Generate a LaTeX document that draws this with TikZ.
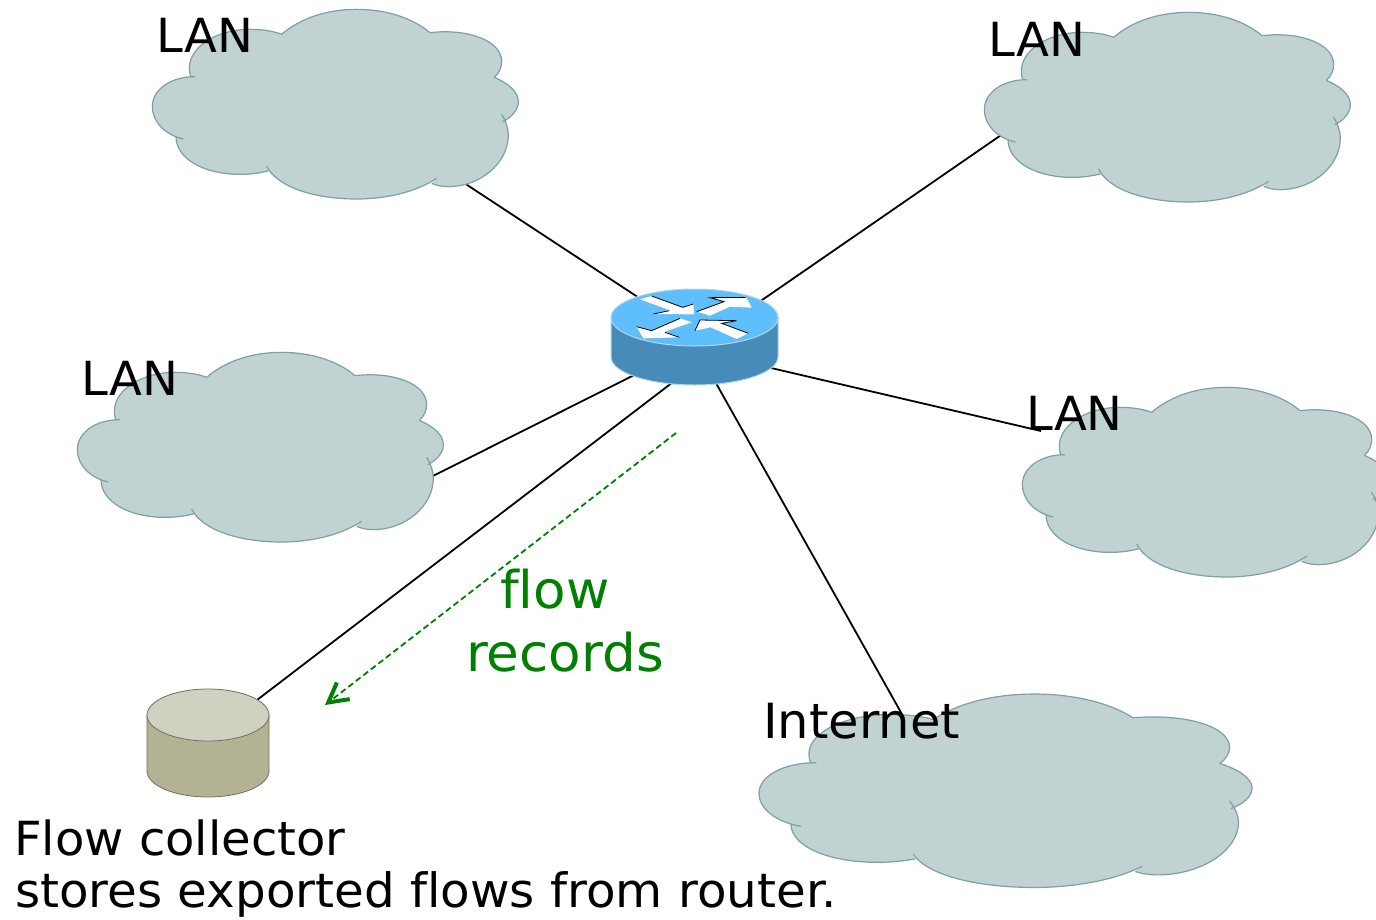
\documentclass[tikz,border=0pt]{standalone}
\usepackage{fontspec}
\setmainfont[Ligatures=NoCommon,FakeStretch=1.022]{DejaVu Sans}
\usetikzlibrary{arrows.meta}
\definecolor{cloudfill}{HTML}{C0D2D2}
\definecolor{cloudline}{HTML}{7F9FA3}
\definecolor{flowgreen}{HTML}{008000}
\definecolor{rtop}{HTML}{5FBEFC}
\definecolor{rbody}{HTML}{478CB8}
\definecolor{rline}{HTML}{B5D5EA}
\definecolor{dbtop}{HTML}{D1D1C1}
\definecolor{dbbody}{HTML}{B3B394}
\definecolor{dbline}{HTML}{6F6F5F}
\newcommand{\cloudshape}{(425,103) .. controls (480,55) and (560,28) .. (650,28) .. controls (740,28) and (820,55) .. (870,98) \J
(870,98) .. controls (980,85) and (1085,120) .. (1085,185) .. controls (1085,200) and (1078,220) .. (1063,232) \J
(1063,232) .. controls (1105,250) and (1135,275) .. (1135,305) .. controls (1135,330) and (1115,352) .. (1088,365) \J
(1085,343) .. controls (1098,365) and (1105,385) .. (1105,405) .. controls (1105,490) and (1020,560) .. (925,560) .. controls (905,560) and (888,556) .. (875,550) \J
(890,535) .. controls (830,575) and (740,597) .. (650,597) .. controls (520,597) and (410,560) .. (380,498) \J
(385,513) .. controls (355,520) and (330,523) .. (300,523) .. controls (190,523) and (108,475) .. (108,410) \J
(130,417) .. controls (75,405) and (37,365) .. (37,320) .. controls (37,270) and (90,230) .. (165,230) \J
(153,232) .. controls (150,225) and (148,215) .. (148,205) .. controls (148,140) and (230,88) .. (330,88) .. controls (365,88) and (400,93) .. (425,103)}
\newcommand{\cloudat}[4]{\begin{scope}[shift={(#1,#2)},x=#3*0.33333pt,y=#4*-0.33333pt]
\def\J{--}\fill[cloudfill] \cloudshape;
\def\J{}\draw[cloudline,line width=1.2pt] \cloudshape;
\end{scope}}
\tikzset{
 link/.style={black,line width=1.8pt},
 lbl/.style={inner sep=0pt,anchor=base west,font=\fontsize{47}{47}\selectfont,text=black},
 longlbl/.style={inner sep=0pt,anchor=base west,font=\fontsize{47.3}{47.3}\selectfont,text=black},
 inetlbl/.style={inner sep=0pt,anchor=base west,font=\fontsize{48.5}{48.5}\selectfont,text=black},
 flowlbl/.style={inner sep=0pt,anchor=base west,font=\fontsize{52}{52}\selectfont,text=flowgreen},
 flowarrow/.style={flowgreen,line width=1.8pt,dash pattern=on 6pt off 3.5pt,-{Straight Barb[length=19pt,width=21pt,line width=4pt]}},
 wharrow/.style={fill=white,draw=none},
 wedge/.style={black,line width=.8pt}
}
\begin{document}
\begin{tikzpicture}[x=1pt,y=-1pt]
\useasboundingbox (0,0) rectangle (1376,919);
% anchors
\coordinate (hubA) at (694,334);
\coordinate (hubB) at (694,347);
\coordinate (hubC) at (694,345);
\coordinate (hubD) at (694,350);
\coordinate (hubE) at (694,366);
\coordinate (hubF) at (694,344);
\coordinate (cloudA) at (420,154);
\coordinate (cloudB) at (1020,122);
\coordinate (cloudC) at (413,486);
\coordinate (cloudD) at (1041,431);
\coordinate (collector) at (240,713);
\coordinate (inet) at (903,716);
\coordinate (flowstart) at (676,433);
\coordinate (flowend) at (325,705);
% connectors
\draw[link] (hubA) -- (cloudA);
\draw[link] (hubB) -- (cloudB);
\draw[link] (hubC) -- (cloudC);
\draw[link] (hubD) -- (cloudD);
\draw[link] (hubE) -- (collector);
\draw[link] (hubF) -- (inet);
\draw[flowarrow] (flowstart) -- (flowend);
% clouds
\cloudat{140}{0}{1}{1}
\cloudat{972}{3}{1}{1}
\cloudat{65}{343}{1}{1}
\cloudat{1010}{378}{1}{1}
\cloudat{742.4}{684.5}{1.347}{1.02}
% router
\path[fill=rbody,draw=rline,line width=1pt] (611,317.5) -- (611,357) arc[start angle=180,end angle=0,x radius=83.5,y radius=28] -- (778,317.5) -- cycle;
\path[fill=rtop,draw=rline,line width=1pt] (694.5,317.5) ellipse[x radius=83.5,y radius=28.5];
\begin{scope}[shift={(590,270)},x=0.33333pt,y=-0.33333pt]
\fill[wharrow] (150,88) -- (185,78) -- (278,112) -- (310,102) -- (312,133) -- (190,132) -- (238,120) -- cycle;
\draw[wedge] (185,78) -- (278,112) -- (310,102);
\draw[wedge] (190,132) -- (238,122);
\fill[wharrow] (320,125) -- (360,137) -- (420,110) -- (485,113) -- (468,80) -- (360,83) -- (402,95) -- cycle;
\draw[wedge] (320,125) -- (402,95) -- (360,83) -- (468,82);
\fill[wharrow] (270,145) -- (305,157) -- (225,185) -- (268,202) -- (160,205) -- (140,170) -- (185,182) -- cycle;
\draw[wedge] (140,170) -- (185,182) -- (270,145);
\draw[wedge] (225,187) -- (268,202);
\fill[wharrow] (475,190) -- (440,207) -- (362,172) -- (315,182) -- (330,150) -- (440,152) -- (395,160) -- cycle;
\draw[wedge] (475,190) -- (395,160) -- (440,152) -- (330,150) -- (315,182);
\end{scope}
\node[minimum width=167pt,minimum height=96pt,inner sep=0pt] (router) at (694.5,337) {};
% collector
\path[fill=dbbody,draw=dbline,line width=.8pt] (147,715) -- (147,771) arc[start angle=180,end angle=0,x radius=61,y radius=26] -- (269,715) -- cycle;
\path[fill=dbtop,draw=dbline,line width=.8pt] (208,715) ellipse[x radius=61,y radius=26];
% labels
\node[lbl] (t1) at (156.5,52) {LAN};
\node[lbl] (t2) at (988.5,56) {LAN};
\node[lbl] (t3) at (81.5,395) {LAN};
\node[lbl] (t4) at (1026,430) {LAN};
\node[inetlbl] (t5) at (763,738) {Internet};
\node[flowlbl] (t6) at (500,608) {flow};
\node[flowlbl] (t7) at (466,671) {records};
\node[lbl] (t8) at (14,855) {Flow collector};
\node[longlbl] (t9) at (15,907) {stores exported flows from router.};
\end{tikzpicture}
\end{document}
